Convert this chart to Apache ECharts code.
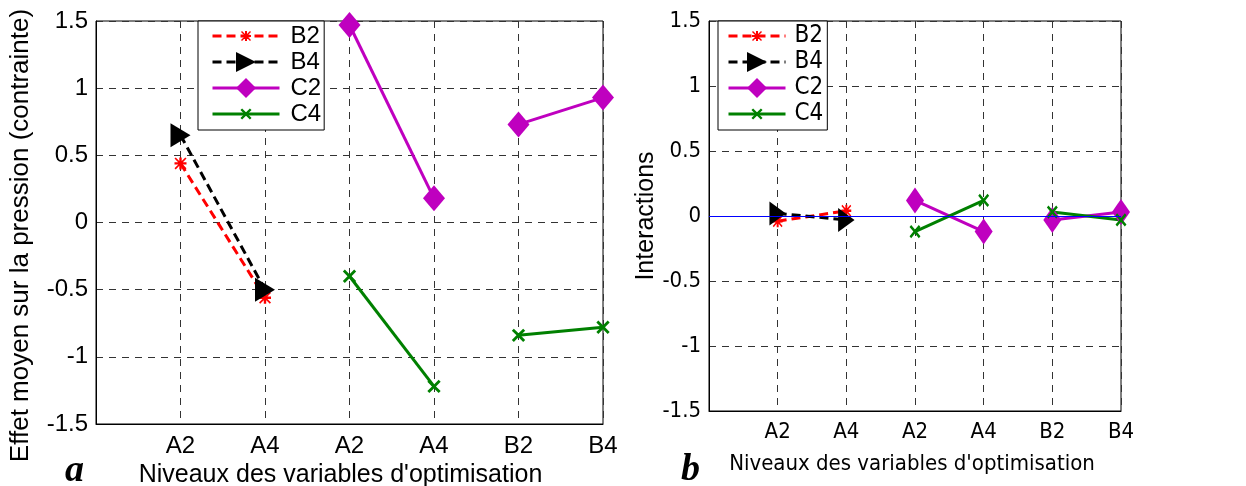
<!DOCTYPE html>
<html>
<head>
<meta charset="utf-8">
<script src="https://cdn.jsdelivr.net/npm/echarts@6/dist/echarts.min.js"></script>
<style>html,body{margin:0;padding:0;background:#fff}#c{width:1246px;height:486px}</style>
</head>
<body>
<div id="c"></div>
<script>
// ---- data ----
const levels = ['A2', 'A4', 'A2', 'A4', 'B2', 'B4'];
const groups = [[0, 1], [2, 3], [4, 5]];
const seriesNames = ['B2', 'B4', 'C2', 'C4'];
const yTicks = [-1.5, 1.5, 0.5];
// panel a : mean effects
const aB2 = [0.44, -0.56, null, null, null, null];
const aB4 = [0.65, -0.50, null, null, null, null];
const aC2 = [null, null, 1.47, 0.18, 0.73, 0.93];
const aC4 = [null, null, -0.40, -1.22, -0.84, -0.78];
// panel b : interactions
const bB2 = [-0.04, 0.04, null, null, null, null];
const bB4 = [0.02, -0.03, null, null, null, null];
const bC2 = [null, null, 0.12, -0.12, -0.03, 0.03];
const bC4 = [null, null, -0.12, 0.12, 0.03, -0.03];

// ---- styles ----
const SANS = "'Liberation Sans', Arial, sans-serif";
const NARROW = "'DejaVu Sans Condensed', 'Liberation Sans', sans-serif";
// padded bounding boxes (leading moveTo points) keep the small markers small in the legend
const ASTER = 'path://M-5,-5M15,15M4,0H6V4H10V6H6V10H4V6H0V4H4Z M1,0L5,4L9,0L10,1L6,5L10,9L9,10L5,6L1,10L0,9L4,5L0,1Z';
const XMARK = 'path://M-4,-4M14,14M0,1.5L1.5,0L5,3.5L8.5,0L10,1.5L6.5,5L10,8.5L8.5,10L5,6.5L1.5,10L0,8.5L3.5,5Z';
const TRI = 'path://M0,0L10,6L0,12Z';
const styles = {
  B2: {color: '#ff0000', dash: [9, 5], symbol: ASTER, size: [24, 24]},
  B4: {color: '#000000', dash: [9, 5], symbol: TRI, size: [20, 24]},
  C2: {color: '#bf00bf', dash: 'solid', symbol: 'diamond', size: [22, 26]},
  C4: {color: '#008000', dash: 'solid', symbol: XMARK, size: [24, 24]}
};

function buildSeries(valsByName, idx, narrowK) {
  const out = [];
  seriesNames.forEach(function (name) {
    const v = valsByName[name];
    const st = styles[name];
    groups.forEach(function (g) {
      if (v[g[0]] == null) return;
      out.push({
        type: 'line', name: name, xAxisIndex: idx, yAxisIndex: idx,
        data: g.map(function (i) { return [i + 1, v[i]]; }),
        symbol: st.symbol,
        symbolSize: [st.size[0] * narrowK, st.size[1]],
        symbolKeepAspect: false,
        showSymbol: true,
        itemStyle: {color: st.color},
        lineStyle: {color: st.color, width: 3, type: st.dash},
        emphasis: {disabled: true},
        z: 3
      });
    });
  });
  return out;
}

function xAxis(idx, font, size, nameSize, gap, pad) {
  return {
    type: 'value', gridIndex: idx, min: 0, max: 6, interval: 1,
    axisLine: {show: true, onZero: false, lineStyle: {color: '#000', width: 1}},
    axisTick: {show: false},
    axisLabel: {
      color: '#000', fontFamily: font, fontSize: size, margin: 10,
      formatter: function (v) { return levels[v - 1] || ''; }
    },
    splitLine: {show: true, lineStyle: {color: '#333', type: [7, 6], width: 1}},
    name: 'Niveaux des variables d\'optimisation',
    nameLocation: 'middle', nameGap: gap,
    nameTextStyle: {color: '#000', fontFamily: font, fontSize: nameSize, padding: pad}
  };
}
function yAxis(idx, font, size, name, nameFont, nameSize, gap, pad) {
  return {
    type: 'value', gridIndex: idx, min: yTicks[0], max: yTicks[1], interval: yTicks[2],
    axisLine: {show: true, lineStyle: {color: '#000', width: 1}},
    axisTick: {show: false},
    axisLabel: {color: '#000', fontFamily: font, fontSize: size, margin: 8},
    splitLine: {show: true, lineStyle: {color: '#333', type: [7, 6], width: 1}},
    name: name, nameLocation: 'middle', nameGap: gap, nameRotate: 90,
    nameTextStyle: {color: '#000', fontFamily: nameFont, fontSize: nameSize, padding: pad}
  };
}

const series = []
  .concat(buildSeries({B2: aB2, B4: aB4, C2: aC2, C4: aC4}, 0, 1))
  .concat(buildSeries({B2: bB2, B4: bB4, C2: bC2, C4: bC4}, 1, 0.82));
series.push({
  type: 'line', name: 'zero', xAxisIndex: 1, yAxisIndex: 1, data: [], z: 10,
  markLine: {
    silent: true, symbol: ['none', 'none'], label: {show: false},
    lineStyle: {color: '#0000ff', width: 1, type: 'solid'},
    data: [{yAxis: 0}], animation: false
  }
});

const chart = echarts.init(document.getElementById('c'), null, {renderer: 'canvas'});
chart.setOption({
  animation: false,
  backgroundColor: '#fff',
  grid: [
    {left: 96, top: 21, width: 507, height: 403, show: true, borderColor: '#000', borderWidth: 1,
      backgroundColor: 'transparent', containLabel: false, outerBoundsMode: 'none'},
    {left: 709, top: 21, width: 412, height: 390, show: true, borderColor: '#000', borderWidth: 1,
      backgroundColor: 'transparent', containLabel: false, outerBoundsMode: 'none'}
  ],
  xAxis: [xAxis(0, SANS, 24, 25, 33, [0, 18, 0, 0]), xAxis(1, NARROW, 22, 22, 42, [0, 6, 0, 0])],
  yAxis: [
    yAxis(0, SANS, 24, 'Effet moyen sur la pression (contrainte)', SANS, 26, 62, [0, 26, 0, 0]),
    yAxis(1, NARROW, 22, 'Interactions', SANS, 25, 44, 0)
  ],
  legend: [
    {
      data: seriesNames, orient: 'vertical', left: 198, top: 21,
      backgroundColor: '#fff', borderColor: '#000', borderWidth: 1,
      padding: [3, 3, 4, 13], itemWidth: 67, itemHeight: 25, itemGap: 2,
      lineStyle: {width: 3},
      textStyle: {color: '#000', fontFamily: SANS, fontSize: 24, padding: [0, 0, 0, 6]},
      selectedMode: false
    },
    {
      data: seriesNames, orient: 'vertical', left: 718, top: 21,
      backgroundColor: '#fff', borderColor: '#000', borderWidth: 1,
      padding: [3, 4, 4, 9], itemWidth: 57, itemHeight: 25, itemGap: 2,
      lineStyle: {width: 3},
      textStyle: {color: '#000', fontFamily: NARROW, fontSize: 24, padding: [0, 0, 0, 4]},
      selectedMode: false
    }
  ],
  graphic: [
    {type: 'text', left: 65, top: 452, style: {text: 'a', font: 'italic bold 38px "Liberation Serif", "DejaVu Serif", serif', fill: '#000'}},
    {type: 'text', left: 681, top: 451, style: {text: 'b', font: 'italic bold 38px "Liberation Serif", "DejaVu Serif", serif', fill: '#000'}}
  ],
  series: series
});
</script>
</body>
</html>
